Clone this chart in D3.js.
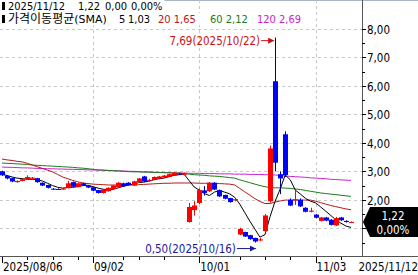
<!DOCTYPE html>
<html>
<head>
<meta charset="utf-8">
<script src="https://cdn.jsdelivr.net/npm/d3@7"></script>
<style>
  body { margin: 0; background: #fff; }
  svg { display: block; font-family: "DejaVu Sans Condensed", "DejaVu Sans", sans-serif; font-stretch: condensed; font-size: 11.5px; }
  .ko { font-family: "Noto Sans CJK KR", sans-serif; font-stretch: normal; font-size: 12px; }
  .sma { font-family: "DejaVu Sans", sans-serif; font-stretch: normal; font-size: 11px; }
</style>
</head>
<body>
<div id="chart"></div>
<script>
// trading days shown, 2025/08/06 .. 2025/11/12
let dates = [
	"08/06","08/07","08/08","08/11","08/12","08/13","08/14","08/15","08/18","08/19",
	"08/20","08/21","08/22","08/25","08/26","08/27","08/28","08/29","09/02","09/03",
	"09/04","09/05","09/08","09/09","09/10","09/11","09/12","09/15","09/16","09/17",
	"09/18","09/19","09/22","09/23","09/24","09/25","09/26","09/29","09/30","10/01",
	"10/02","10/03","10/06","10/07","10/08","10/09","10/10","10/13","10/14","10/15",
	"10/16","10/17","10/20","10/21","10/22","10/23","10/24","10/27","10/28","10/29",
	"10/30","10/31","11/03","11/04","11/05","11/06","11/07","11/10","11/11","11/12"
];

let open = [
	3.00,2.84,2.76,2.62,2.66,2.72,2.74,2.76,2.60,2.52,
	2.39,2.38,2.36,2.41,2.62,2.46,2.58,2.50,2.44,2.34,
	2.24,2.30,2.38,2.45,2.58,2.60,2.50,2.62,2.82,2.68,
	2.70,2.74,2.78,2.80,2.85,2.92,2.88,1.22,1.64,1.89,
	2.33,2.30,2.60,2.34,2.17,2.06,1.98,0.78,0.87,0.76,
	0.66,0.58,0.90,1.95,6.16,2.90,4.30,2.00,1.98,2.00,
	1.72,1.58,1.48,1.26,1.38,1.30,1.10,1.38,1.26,1.22
];
let high = [
	3.02,2.86,2.77,2.68,2.74,2.86,2.80,2.77,2.61,2.53,
	2.41,2.40,2.42,2.66,2.64,2.60,2.60,2.52,2.45,2.35,
	2.38,2.44,2.52,2.62,2.60,2.62,2.67,2.77,2.84,2.74,
	2.82,2.84,2.87,2.92,2.97,2.95,2.95,1.89,1.95,2.40,
	2.48,2.62,2.62,2.36,2.18,2.07,2.05,1.02,0.88,0.77,
	0.67,0.66,1.50,3.90,7.69,3.00,4.40,2.05,2.35,2.05,
	1.74,1.72,1.50,1.40,1.40,1.32,1.40,1.40,1.28,1.24
];
let low = [
	2.84,2.72,2.62,2.60,2.65,2.70,2.72,2.60,2.48,2.40,
	2.36,2.35,2.35,2.40,2.44,2.44,2.49,2.41,2.30,2.22,
	2.22,2.29,2.36,2.44,2.45,2.50,2.49,2.60,2.62,2.66,
	2.69,2.72,2.76,2.79,2.84,2.88,2.86,1.20,1.45,1.85,
	2.15,2.28,2.34,2.10,2.02,1.90,1.95,0.76,0.70,0.60,
	0.50,0.55,0.85,1.90,3.00,2.20,2.80,1.78,1.82,1.75,
	1.56,1.56,1.35,1.24,1.25,1.10,1.08,1.26,1.20,1.20
];
let close = [
	2.86,2.75,2.64,2.66,2.72,2.80,2.78,2.62,2.50,2.42,
	2.38,2.37,2.40,2.58,2.46,2.58,2.51,2.43,2.32,2.24,
	2.36,2.42,2.50,2.60,2.47,2.52,2.65,2.75,2.64,2.70,
	2.80,2.82,2.85,2.90,2.95,2.90,2.92,1.75,1.80,2.34,
	2.24,2.60,2.36,2.12,2.04,1.92,2.02,0.98,0.71,0.62,
	0.54,0.61,1.45,3.80,3.30,2.75,2.87,1.80,2.02,1.77,
	1.58,1.62,1.37,1.38,1.27,1.12,1.36,1.28,1.22,1.22
];

// moving averages as drawn
let sma5 = [
	2.90,2.85,2.80,2.76,2.74,2.72,2.72,2.70,2.66,2.58,
	2.50,2.44,2.41,2.43,2.44,2.46,2.50,2.51,2.46,2.41,
	2.37,2.36,2.37,2.42,2.48,2.52,2.55,2.60,2.62,2.65,
	2.70,2.74,2.76,2.81,2.86,2.88,2.90,2.67,2.45,2.34,
	2.22,2.15,2.27,2.33,2.27,2.21,2.09,1.85,1.55,1.25,
	0.97,0.69,0.78,1.41,1.95,2.38,2.87,2.70,2.34,2.20,
	2.05,1.95,1.89,1.75,1.60,1.45,1.30,1.18,1.08,1.03
];
let sma20 = [
	3.43,3.40,3.38,3.35,3.33,3.28,3.22,3.16,3.10,3.04,
	2.98,2.89,2.80,2.74,2.68,2.63,2.59,2.57,2.55,2.54,
	2.53,2.52,2.52,2.52,2.52,2.52,2.52,2.53,2.54,2.55,
	2.56,2.57,2.58,2.58,2.59,2.59,2.59,2.59,2.59,2.58,
	2.58,2.58,2.57,2.57,2.56,2.55,2.52,2.40,2.28,2.16,
	2.04,1.94,1.87,1.87,1.92,1.96,1.99,1.99,1.99,1.99,
	1.99,1.99,1.95,1.90,1.85,1.80,1.76,1.72,1.68,1.65
];
let sma60 = [
	3.29,3.28,3.27,3.26,3.25,3.24,3.22,3.21,3.20,3.19,
	3.18,3.17,3.16,3.15,3.14,3.12,3.11,3.09,3.07,3.05,
	3.04,3.03,3.02,3.01,3.00,2.99,2.98,2.98,2.97,2.97,
	2.96,2.96,2.95,2.95,2.94,2.94,2.92,2.90,2.88,2.87,
	2.86,2.84,2.83,2.82,2.80,2.78,2.76,2.70,2.65,2.60,
	2.55,2.50,2.46,2.43,2.42,2.42,2.41,2.40,2.38,2.36,
	2.33,2.30,2.27,2.24,2.22,2.20,2.18,2.16,2.14,2.12
];
let sma120 = [
	3.15,3.14,3.14,3.13,3.12,3.12,3.11,3.10,3.10,3.09,
	3.09,3.08,3.08,3.07,3.07,3.06,3.06,3.05,3.05,3.04,
	3.04,3.03,3.02,3.02,3.01,3.00,3.00,2.99,2.98,2.98,
	2.97,2.96,2.96,2.95,2.94,2.94,2.94,2.93,2.93,2.93,
	2.92,2.92,2.92,2.91,2.91,2.91,2.90,2.90,2.90,2.89,
	2.89,2.89,2.88,2.88,2.87,2.85,2.84,2.82,2.81,2.80,
	2.79,2.77,2.76,2.75,2.74,2.72,2.71,2.70,2.69,2.68
];

let yTicks = [1, 2, 3, 4, 5, 6, 7, 8];
let xLabels = [
	{ date: "08/06", text: "2025/08/06" },
	{ date: "09/02", text: "09/02" },
	{ date: "10/01", text: "10/01" },
	{ date: "11/03", text: "11/03" }
];
let minorTicks = ["08/13","08/20","08/27","09/10","09/15","09/22","10/13","10/20","10/27","11/10"];

let width = 418, height = 275;
let plotRight = 362, plotBottom = 256;

let svg = d3.select("#chart").append("svg")
	.attr("width", width)
	.attr("height", height);

let x = d3.scalePoint().domain(dates).range([2, 351]);
let y = d3.scaleLinear().domain([1, 8]).range([228.3, 28.8]);
let fmt = v => d3.format(".2f")(v).replace(".", ",");

// top border
svg.append("line").attr("x1", 0).attr("x2", width).attr("y1", 0.5).attr("y2", 0.5)
	.attr("stroke", "#a9b4c6");

// grid
let grid = svg.append("g").attr("stroke", "#c8c8c8").attr("stroke-dasharray", "3,3");
grid.selectAll("line.h").data(yTicks).enter().append("line")
	.attr("x1", 0).attr("x2", plotRight)
	.attr("y1", d => Math.round(y(d)) + 0.5).attr("y2", d => Math.round(y(d)) + 0.5);
grid.selectAll("line.v").data(xLabels.slice(1)).enter().append("line")
	.attr("x1", d => Math.round(x(d.date)) + 0.5).attr("x2", d => Math.round(x(d.date)) + 0.5)
	.attr("y1", 0).attr("y2", plotBottom);

// moving averages
let maLines = [
	{ values: sma120, color: "#cc22cc" },
	{ values: sma60, color: "#1a7a1a" },
	{ values: sma20, color: "#b51a1a" },
	{ values: sma5, color: "#000000" }
];
let line = d3.line().x((d, i) => x(dates[i])).y(d => y(d));
maLines.forEach(m => {
	svg.append("path").datum(m.values)
		.attr("fill", "none").attr("stroke", m.color).attr("stroke-width", 1)
		.attr("d", line);
});

// candles
let candles = dates.map((d, i) => ({ date: d, o: open[i], h: high[i], l: low[i], c: close[i] }));
let cg = svg.append("g");
let col = d => d.c >= d.o ? "#ff0000" : "#0000ff";
cg.selectAll("line.wick").data(candles).enter().append("line")
	.attr("x1", d => Math.round(x(d.date)) + 0.5).attr("x2", d => Math.round(x(d.date)) + 0.5)
	.attr("y1", d => y(d.h)).attr("y2", d => y(d.l))
	.attr("stroke", d => d.c >= d.o ? "#ff0000" : "#000080");
cg.selectAll("rect").data(candles).enter().append("rect")
	.attr("x", d => Math.round(x(d.date)) - 2)
	.attr("width", 5)
	.attr("y", d => y(Math.max(d.o, d.c)))
	.attr("height", d => Math.max(1, y(Math.min(d.o, d.c)) - y(Math.max(d.o, d.c))))
	.attr("fill", col);

// max / min labels
let iMax = high.indexOf(d3.max(high)), iMin = low.indexOf(d3.min(low));
let defs = svg.append("defs");
[["arR", "#cc1111"], ["arB", "#1a1aa0"]].forEach(a => {
	defs.append("marker").attr("id", a[0]).attr("viewBox", "0 0 6 6")
		.attr("refX", 6).attr("refY", 3).attr("markerWidth", 6).attr("markerHeight", 6)
		.attr("orient", "auto")
		.append("path").attr("d", "M0,0L6,3L0,6Z").attr("fill", a[1]);
});
let mx = x(dates[iMax]), my = y(high[iMax]) + 3;
svg.append("line").attr("x1", mx - 14).attr("x2", mx - 1).attr("y1", my).attr("y2", my)
	.attr("stroke", "#cc1111").attr("marker-end", "url(#arR)");
svg.append("text").attr("x", mx - 15).attr("y", my + 4).attr("text-anchor", "end")
	.attr("fill", "#cc1111").text(fmt(high[iMax]) + "(2025/" + dates[iMax] + ")");
let nx = x(dates[iMin]), ny = y(low[iMin]) + 6;
svg.append("line").attr("x1", nx - 18).attr("x2", nx + 1).attr("y1", ny).attr("y2", ny)
	.attr("stroke", "#1a1aa0").attr("marker-end", "url(#arB)");
svg.append("text").attr("x", nx - 19).attr("y", ny + 4).attr("text-anchor", "end")
	.attr("fill", "#1a1aa0").text(fmt(low[iMin]) + "(2025/" + dates[iMin] + ")");

// right axis
svg.append("line").attr("x1", plotRight + 0.5).attr("x2", plotRight + 0.5)
	.attr("y1", 0).attr("y2", plotBottom).attr("stroke", "#555");
let ya = svg.append("g");
ya.selectAll("line.maj").data(yTicks).enter().append("line")
	.attr("x1", plotRight).attr("x2", plotRight + 4)
	.attr("y1", d => Math.round(y(d)) + 0.5).attr("y2", d => Math.round(y(d)) + 0.5)
	.attr("stroke", "#000");
ya.selectAll("line.min").data(yTicks.map(d => d - 0.5)).enter().append("line")
	.attr("x1", plotRight).attr("x2", plotRight + 3)
	.attr("y1", d => Math.round(y(d)) + 0.5).attr("y2", d => Math.round(y(d)) + 0.5)
	.attr("stroke", "#000");
ya.selectAll("text").data(yTicks.filter(d => d > 1)).enter().append("text")
	.attr("x", plotRight + 5).attr("y", d => y(d) + 5)
	.text(d => fmt(d));

// last price box
let last = close[close.length - 1], ly = y(last);
svg.append("path")
	.attr("d", `M${plotRight + 1},${ly} L${plotRight + 8},${ly - 15} L${width},${ly - 15} L${width},${ly + 15} L${plotRight + 8},${ly + 15} Z`)
	.attr("fill", "#000");
svg.append("text").attr("x", 393).attr("y", ly - 2).attr("text-anchor", "middle")
	.attr("fill", "#fff").text(fmt(last));
svg.append("text").attr("x", 393).attr("y", ly + 12).attr("text-anchor", "middle")
	.attr("fill", "#fff").text("0,00%");

// bottom axis
svg.append("line").attr("x1", 0).attr("x2", width).attr("y1", plotBottom + 0.5).attr("y2", plotBottom + 0.5)
	.attr("stroke", "#555");
svg.selectAll("line.xmaj").data(xLabels).enter().append("line")
	.attr("x1", d => Math.round(x(d.date)) + 0.5).attr("x2", d => Math.round(x(d.date)) + 0.5)
	.attr("y1", plotBottom + 1).attr("y2", plotBottom + 7).attr("stroke", "#000");
svg.selectAll("line.xmin").data(minorTicks).enter().append("line")
	.attr("x1", d => Math.round(x(d)) + 0.5).attr("x2", d => Math.round(x(d)) + 0.5)
	.attr("y1", plotBottom + 1).attr("y2", plotBottom + 4).attr("stroke", "#000");
svg.selectAll("text.xl").data(xLabels).enter().append("text")
	.attr("x", d => x(d.date) + 1).attr("y", 271).text(d => d.text);
svg.append("text").attr("x", width).attr("y", 271).attr("text-anchor", "end").text("2025/11/12");

// header
function header(yBase, parts) {
	let g = svg.append("g").style("font-size", "11px");
	let bg = g.append("rect").attr("fill", "#fff");
	g.append("rect").attr("x", 2).attr("y", yBase - 8).attr("width", 3).attr("height", 8).attr("fill", "#000");
	parts.forEach(p => {
		let t = g.append("text").attr("x", p.x).attr("y", yBase).attr("fill", p.color || "#000");
		if (p.spans) {
			p.spans.forEach(s => t.append("tspan").attr("class", s.cls || null).text(s.text));
		} else {
			t.text(p.text);
		}
	});
	let bb = g.node().getBBox();
	bg.attr("x", 0).attr("y", yBase - 10).attr("width", bb.x + bb.width + 2).attr("height", 12);
}
header(10, [
	{ x: 8, text: "2025/11/12" },
	{ x: 78, text: "1,22" },
	{ x: 105, text: "0,00" },
	{ x: 131, text: "0,00%" }
]);
header(23, [
	{ x: 8, spans: [{ text: "가격이동평균", cls: "ko" }, { text: "(SMA)", cls: "sma" }] },
	{ x: 119, text: "5" },
	{ x: 128, text: "1,03" },
	{ x: 158, text: "20 1,65", color: "#b51a1a" },
	{ x: 210, text: "60 2,12", color: "#1a7a1a" },
	{ x: 257, text: "120 2,69", color: "#cc22cc" }
]);
</script>
</body>
</html>
